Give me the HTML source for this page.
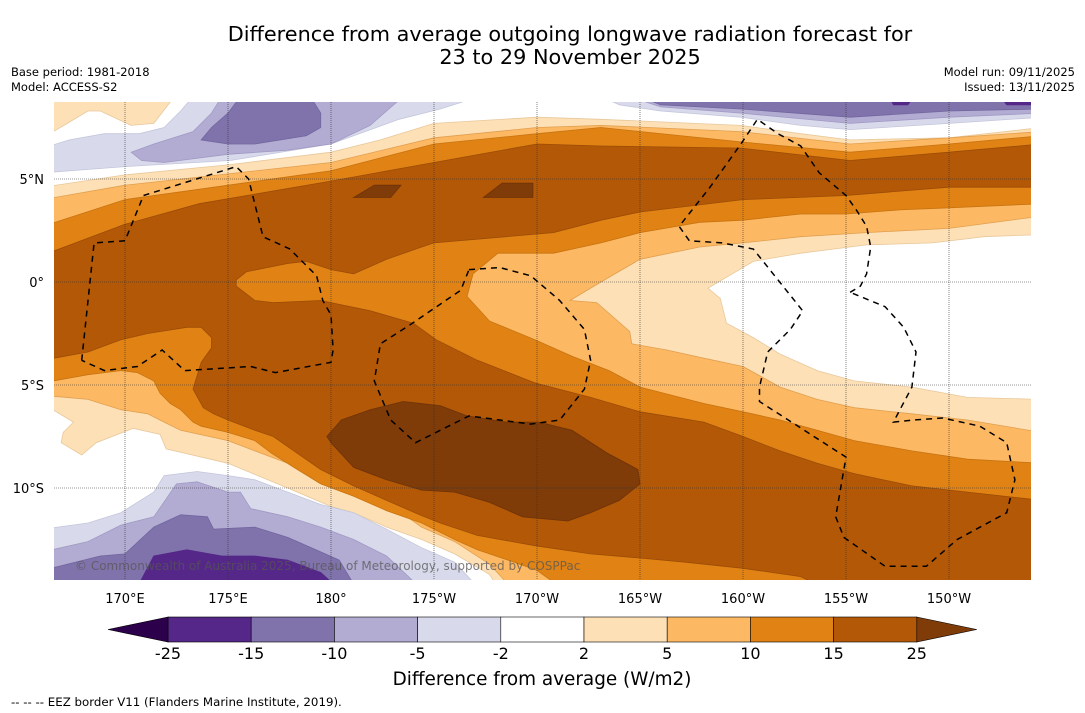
<!DOCTYPE html>
<html><head><meta charset="utf-8">
<style>
html,body{margin:0;padding:0;background:#fff;}
body{width:1085px;height:713px;position:relative;overflow:hidden;font-family:"DejaVu Sans","Liberation Sans",sans-serif;}
svg{position:absolute;left:0;top:0;font-family:"DejaVu Sans","Liberation Sans",sans-serif;}
</style></head>
<body>
<svg id="chart" width="1085" height="713" viewBox="0 0 1085 713">
  <text x="570" y="41" text-anchor="middle" font-size="20.8" fill="#000">Difference from average outgoing longwave radiation forecast for</text>
  <text x="570" y="64" text-anchor="middle" font-size="20.8" fill="#000">23 to 29 November 2025</text>
  <text x="11" y="76" font-size="11.5">Base period: 1981-2018</text>
  <text x="11" y="91" font-size="11.5">Model: ACCESS-S2</text>
  <text x="1075" y="76" font-size="11.5" text-anchor="end">Model run: 09/11/2025</text>
  <text x="1075" y="91" font-size="11.5" text-anchor="end">Issued: 13/11/2025</text>
  <defs><clipPath id="mapclip"><rect x="54" y="102" width="977" height="478"/></clipPath></defs>
  <g id="map" clip-path="url(#mapclip)">
    <rect x="54" y="102" width="977" height="478" fill="#ffffff"/>
  </g>
  <g id="axes"></g>
  <text x="75" y="570" font-size="12" fill="#555" fill-opacity="0.75">© Commonwealth of Australia 2025, Bureau of Meteorology, supported by COSPPac</text>
  <g id="colorbar"></g>
  <text x="542" y="685" text-anchor="middle" font-size="18.4">Difference from average (W/m2)</text>
  <text x="11" y="706" font-size="11.8">--  --  -- EEZ border V11 (Flanders Marine Institute, 2019).</text>
</svg>
<script>
// ---- data ----
const latTicks = [5, 0, -5, -10];
const latLabels = ["5°N", "0°", "5°S", "10°S"];
const lonTicks = [170, 175, 180, 185, 190, 195, 200, 205, 210];
const lonLabels = ["170°E", "175°E", "180°", "175°W", "170°W", "165°W", "160°W", "155°W", "150°W"];
const cbLevels = [-25, -15, -10, -5, -2, 2, 5, 10, 15, 25];
const cbColors = ["#542788", "#8073ac", "#b2abd2", "#d8daeb", "#ffffff", "#fee0b6", "#fdb863", "#e08214", "#b35806"];
const cbExtendLow = "#2d004b";
const cbExtendHigh = "#7f3b08";

const regionGE2 = [166,4.6,170,5.2,175.1,5.7,180,6.3,182.4,6.9,185,7.7,190,8.0,193.1,7.9,199.9,7.6,202.8,7.2,205.2,6.9,210,7.0,214.5,7.5,214.5,-15,188.2,-15,187.7,-14.2,186,-13.2,184.4,-12.5,182.7,-11.9,181.1,-11.2,180,-10.9,177.9,-10.0,175,-8.8,172,-8.1,171.7,-7.4,170.4,-7.1,168.6,-7.8,167.9,-8.4,166.9,-7.8,167,-7.3,167.5,-6.8,166,-5.9];
const regionGE2Corner = [166,9,172.4,9,171.4,7.7,170.3,7.6,168.8,8.3,168.2,8.3,167.2,7.7,166,7.0];
const regionNeutralEast = [214.5,2.3,211.7,2.2,209.2,1.9,206,1.8,202.8,1.4,200.5,1.0,198.3,-0.3,198.9,-0.8,199.2,-2.0,200.5,-2.7,201.8,-3.5,203.6,-4.3,205.4,-4.8,208.2,-5.1,210.9,-5.6,214.5,-5.7];
const regionGE5 = [166,4.0,170,4.7,180,5.8,185,7.0,190,7.5,193.1,7.6,199.9,7.3,205.2,6.7,210,7.0,214.5,7.3,214.5,3.2,210,2.6,206,2.4,202.8,2.2,200,1.9,197.9,1.7,195,1.1,193.1,0,191.6,-0.9,192.9,-1.0,194.5,-2.4,194.6,-3.0,196.3,-3.3,198.1,-3.7,200,-4.1,201.8,-5.1,203.6,-5.7,205.4,-6.1,208.2,-6.4,210.9,-6.7,214.5,-7.3,214.5,-15,188.9,-15,187.7,-13.7,186,-12.6,184.4,-11.9,182.7,-10.7,181.1,-10.1,179.5,-9.5,177.9,-8.8,176.3,-8.2,175,-7.7,172.7,-7.2,171.9,-6.8,171.1,-6.4,169.8,-6.2,168.2,-5.7,166,-5.5];
const regionGE10 = [166,2.7,170,4.0,180,5.4,185,6.7,190,7.2,193.1,7.5,199.9,6.8,205.2,6.3,210,6.7,214.5,7.1,214.5,3.8,210,3.6,207.6,3.5,205,3.3,202.8,3.3,200,3.0,197.9,2.9,195,2.4,193.1,1.9,190.8,1.4,188.1,1.4,186.9,0.4,186.6,-0.7,187.7,-1.9,189.9,-2.8,191.7,-3.6,193.5,-4.3,195,-5.1,198.1,-5.9,200,-6.3,201.8,-6.7,203.6,-7.2,205.4,-7.7,208.2,-8.2,210.9,-8.6,214.5,-8.8,214.5,-15,191.4,-15,190,-14.0,188.9,-13.6,187.1,-13.0,186,-12.5,184.4,-11.7,182.7,-11.1,181.1,-10.4,179.5,-9.8,178.2,-9.0,177.1,-8.3,176.3,-7.7,175,-7.3,173.7,-7.0,173.3,-6.8,172.7,-6.2,172.2,-5.9,171.7,-5.4,171.4,-4.8,170.6,-4.4,169.8,-4.3,168.2,-4.5,166,-4.9];
const regionGE15 = [166,1.3,170,2.8,173.6,3.8,180,4.9,185,5.8,190,6.7,193.1,6.6,199.9,6.5,205.2,5.9,210,6.3,214.5,6.7,214.5,4.6,210,4.6,205,4.2,200,4.0,195,3.4,193.1,3.0,190.8,2.4,185,1.9,184.4,1.7,182.7,1.1,181.1,0.4,180,0.6,178.8,1.0,177.9,0.9,175.9,0.5,175.4,0.1,175.4,-0.2,176.3,-0.9,177.2,-1.0,179.5,-0.9,181.9,-1.4,184,-2.0,185.1,-2.8,187.1,-3.8,189.9,-4.9,192.6,-5.6,195,-6.3,198.1,-6.8,200,-7.5,201.8,-8.2,203.6,-8.8,205.4,-9.3,208.2,-9.9,210.9,-10.2,214.5,-10.6,214.5,-15,204.2,-15,202.8,-14.3,200,-13.9,197.2,-13.6,195,-13.4,192.6,-13.2,189.9,-12.8,187.1,-12.3,185.3,-11.7,184.3,-11.3,182.7,-10.6,181.1,-9.9,179.5,-9.1,178.2,-8.2,177.2,-7.5,176.3,-7.2,175,-6.7,174.3,-6.4,173.8,-6.1,173.3,-5.2,173.7,-3.9,174.2,-3.2,174.2,-2.7,173.7,-2.2,173,-2.2,171.1,-2.5,169.8,-2.8,168.2,-3.4,166,-3.8];
const regionGE25 = [179.8,-7.5,180.5,-6.7,181.9,-6.2,183.5,-5.8,185.3,-6.0,186.6,-6.5,188.5,-6.8,190.1,-6.8,191.7,-7.2,193.4,-8.3,194.9,-9.1,195,-9.8,194,-10.6,192.6,-11.2,191.5,-11.6,189.3,-11.4,187.7,-10.7,186,-10.2,184.4,-10.1,182.7,-9.6,181.1,-9.0,180,-7.8];
const regionGE25BlobA = [181.1,4.1,182.1,4.7,183.4,4.7,182.9,4.1];
const regionGE25BlobB = [187.4,4.1,188.3,4.8,189.8,4.8,189.8,4.1];
const regionLE2NW = [166,6.5,167.3,6.9,169.0,7.2,170.7,7.2,171.9,7.5,172.7,8.3,173.3,9,187.2,9,185.3,8.4,183.3,7.9,180,6.7,175.1,5.9,170,5.6,166,5.3];
const regionLE5NW = [170.3,6.3,170.8,5.9,171.9,5.8,175,6.2,177.9,6.4,180,6.7,181.9,7.6,183.5,9,174.7,9,174.2,8.2,173.3,7.3,171.4,6.7];
const regionLE10NW = [173.7,6.9,174.2,7.5,175,8.2,175.6,9,179,9,179.5,8.2,179.5,7.5,178.8,7.1,176.3,6.7,175,6.7];
const regionLE2NE = [193.1,9,214.5,9,214.5,8.0,210,7.7,205.2,7.4,202.8,7.6,199.9,8.0,196,8.3,194,8.6];
const regionLE5NE = [194.5,9,214.5,9,214.5,8.2,210,8.0,205.2,7.7,199.9,8.2,196,8.5];
const regionLE10NE = [195,9,214.5,9,214.5,8.4,210,8.3,205.2,8.0,199.9,8.4,196,8.6];
const regionLE15NEa = [207.1,9,208.3,9,208.0,8.6,207.3,8.6];
const regionLE15NEb = [212.5,9,214.5,9,214.5,8.6,212.8,8.6];
const regionLE2SW = [166,-12.0,168.2,-11.7,169.8,-11.2,171.4,-10.2,171.9,-9.4,173.5,-9.2,175,-9.4,176.3,-9.6,177.9,-10.2,179.5,-10.8,181.1,-11.2,182.7,-12.0,184.4,-12.9,186,-13.6,187.3,-15,166,-15];
const regionLE5SW = [166,-13.1,168.2,-12.6,169.8,-11.8,171.4,-11.4,172.5,-9.8,173.5,-9.7,175,-10.2,175.6,-10.2,176.1,-11.0,177.9,-11.4,179.5,-11.9,181.1,-12.5,182.7,-13.3,184.5,-15,166,-15];
const regionLE10SW = [166,-15,166,-14.0,168.8,-13.3,170,-13.2,171.4,-11.9,172.7,-11.3,174,-11.4,174.3,-12.0,176.3,-11.9,177.9,-12.4,179.5,-13.1,180.4,-13.5,181.3,-15];
const regionLE15SW = [170.5,-15,171.4,-13.3,173,-13.0,174.7,-13.3,176.3,-13.3,177.9,-13.5,179.5,-14.1,180.5,-15];

const eezWest = [167.9,-3.8,168.5,1.9,170,2.0,170.9,4.2,175.4,5.6,176,5.0,176.7,2.2,178,1.6,179.3,0.3,179.6,-0.9,180,-1.6,180.1,-3.3,180,-3.9,177.3,-4.4,176.1,-4.1,172.9,-4.3,171.8,-3.3,170.6,-4.1,169,-4.3,167.9,-3.8];
const eezCentral = [186.7,0.6,188.2,0.7,189.7,0.3,191.1,-0.9,192.3,-2.3,192.6,-3.8,192.3,-5.2,191.1,-6.7,189.7,-6.9,186.7,-6.5,184.1,-7.8,182.9,-6.7,182.1,-4.8,182.4,-3.0,183.8,-2.1,186.3,-0.4,186.7,0.6];
const eezEast = [205.2,-0.5,205.7,-0.2,206,0.4,206.2,1.7,206,2.7,205.5,3.5,205,4.2,203.7,5.3,202.8,6.6,201.7,7.2,200.7,7.9,199.9,6.7,198.4,4.6,196.9,2.7,197.4,2.0,199,1.9,200.5,1.6,200.9,1.1,202.9,-1.4,202.3,-2.3,201.2,-3.4,200.8,-5.1,200.8,-5.8,205,-8.5,204.5,-11.4,204.9,-12.4,206.9,-13.8,208.9,-13.8,210.4,-12.5,212.8,-11.2,213.2,-9.6,212.8,-7.8,211.5,-7.0,209.7,-6.6,208.3,-6.7,207.3,-6.8,208.2,-5.1,208.4,-3.4,207.8,-2.2,206.9,-1.2,205.2,-0.5];

// ---- axis functions ----
const X = lon => 331 + (lon - 180) * 20.6;
const Y = lat => 282 - lat * 20.6;
const NS = "http://www.w3.org/2000/svg";
const mapG = document.getElementById("map");
const axesG = document.getElementById("axes");
const cbG = document.getElementById("colorbar");

function pts(arr){ let s=[]; for(let i=0;i<arr.length;i+=2){ s.push(X(arr[i]).toFixed(1)+","+Y(arr[i+1]).toFixed(1)); } return s.join(" "); }
function poly(arr, fill, stroke, name){
  const p = document.createElementNS(NS, "polygon");
  p.setAttribute("points", pts(arr));
  p.setAttribute("fill", fill);
  p.setAttribute("stroke", stroke);
  p.setAttribute("stroke-width", "0.8");
  
  
  mapG.appendChild(p);
}
poly(regionGE2, "#fee0b6", "#e8c89c", "contour-ge2");
poly(regionGE2Corner, "#fee0b6", "#e8c89c", "contour-ge2-corner");
poly(regionNeutralEast, "#ffffff", "#e8c89c", "contour-neutral-east");
poly(regionGE5, "#fdb863", "#e0a050", "contour-ge5");
poly(regionGE10, "#e08214", "#c87410", "contour-ge10");
poly(regionGE15, "#b35806", "#9c4c06", "contour-ge15");
poly(regionGE25, "#7f3b08", "#6e3308", "contour-ge25");
poly(regionGE25BlobA, "#7f3b08", "#6e3308", "contour-ge25-blob-a");
poly(regionGE25BlobB, "#7f3b08", "#6e3308", "contour-ge25-blob-b");
poly(regionLE2NW, "#d8daeb", "#c4c6dc", "contour-le-2-nw");
poly(regionLE5NW, "#b2abd2", "#a09ac4", "contour-le-5-nw");
poly(regionLE10NW, "#8073ac", "#72669e", "contour-le-10-nw");
poly(regionLE2NE, "#d8daeb", "#c4c6dc", "contour-le-2-ne");
poly(regionLE5NE, "#b2abd2", "#a09ac4", "contour-le-5-ne");
poly(regionLE10NE, "#8073ac", "#72669e", "contour-le-10-ne");
poly(regionLE15NEa, "#542788", "#542788", "contour-le-15-ne-a");
poly(regionLE15NEb, "#542788", "#542788", "contour-le-15-ne-b");
poly(regionLE2SW, "#d8daeb", "#c4c6dc", "contour-le-2-sw");
poly(regionLE5SW, "#b2abd2", "#a09ac4", "contour-le-5-sw");
poly(regionLE10SW, "#8073ac", "#72669e", "contour-le-10-sw");
poly(regionLE15SW, "#542788", "#542788", "contour-le-15-sw");

latTicks.forEach((lat, i) => {
  const l = document.createElementNS(NS, "line");
  l.setAttribute("x1", 54); l.setAttribute("x2", 1031);
  l.setAttribute("y1", Y(lat)); l.setAttribute("y2", Y(lat));
  l.setAttribute("stroke", "#333"); l.setAttribute("stroke-width", "0.6"); l.setAttribute("stroke-dasharray", "1,1");
  
  
  mapG.appendChild(l);
  const t = document.createElementNS(NS, "text");
  t.setAttribute("x", 44); t.setAttribute("y", Y(lat) + 5);
  t.setAttribute("text-anchor", "end"); t.setAttribute("font-size", "13");
  t.textContent = latLabels[i];
  
  
  axesG.appendChild(t);
});
lonTicks.forEach((lon, i) => {
  const l = document.createElementNS(NS, "line");
  l.setAttribute("y1", 102); l.setAttribute("y2", 580);
  l.setAttribute("x1", X(lon)); l.setAttribute("x2", X(lon));
  l.setAttribute("stroke", "#333"); l.setAttribute("stroke-width", "0.6"); l.setAttribute("stroke-dasharray", "1,1");
  
  
  mapG.appendChild(l);
  const t = document.createElementNS(NS, "text");
  t.setAttribute("x", X(lon)); t.setAttribute("y", 603);
  t.setAttribute("text-anchor", "middle"); t.setAttribute("font-size", "13");
  t.textContent = lonLabels[i];
  
  
  axesG.appendChild(t);
});

function dashed(arr, name){
  const p = document.createElementNS(NS, "polyline");
  p.setAttribute("points", pts(arr));
  p.setAttribute("fill", "none"); p.setAttribute("stroke", "#000");
  p.setAttribute("stroke-width", "1.5"); p.setAttribute("stroke-dasharray", "6,5");
  
  
  mapG.appendChild(p);
}
dashed(eezWest, "eez-border-west");
dashed(eezCentral, "eez-border-central");
dashed(eezEast, "eez-border-east");

const cbX0 = 168, cbW = 83.2, cbY = 617, cbH = 25;
const cbX = i => cbX0 + i * cbW;
cbColors.forEach((c, i) => {
  const r = document.createElementNS(NS, "rect");
  r.setAttribute("x", cbX(i)); r.setAttribute("y", cbY);
  r.setAttribute("width", cbW); r.setAttribute("height", cbH);
  r.setAttribute("fill", c); r.setAttribute("stroke", "#000"); r.setAttribute("stroke-width", "0.6");
  
  
  cbG.appendChild(r);
});
const lowTri = document.createElementNS(NS, "polygon");
lowTri.setAttribute("points", `${cbX(0)},${cbY} ${cbX(0)-60},${cbY+cbH/2} ${cbX(0)},${cbY+cbH}`);
lowTri.setAttribute("fill", cbExtendLow); lowTri.setAttribute("stroke", "#000"); lowTri.setAttribute("stroke-width", "0.6");


cbG.appendChild(lowTri);
const n = cbColors.length;
const highTri = document.createElementNS(NS, "polygon");
highTri.setAttribute("points", `${cbX(n)},${cbY} ${cbX(n)+60},${cbY+cbH/2} ${cbX(n)},${cbY+cbH}`);
highTri.setAttribute("fill", cbExtendHigh); highTri.setAttribute("stroke", "#000"); highTri.setAttribute("stroke-width", "0.6");


cbG.appendChild(highTri);
cbLevels.forEach((v, i) => {
  const t = document.createElementNS(NS, "text");
  t.setAttribute("x", cbX(i)); t.setAttribute("y", 659);
  t.setAttribute("text-anchor", "middle"); t.setAttribute("font-size", "16");
  t.textContent = String(v);
  
  
  cbG.appendChild(t);
});
</script>
</body></html>
